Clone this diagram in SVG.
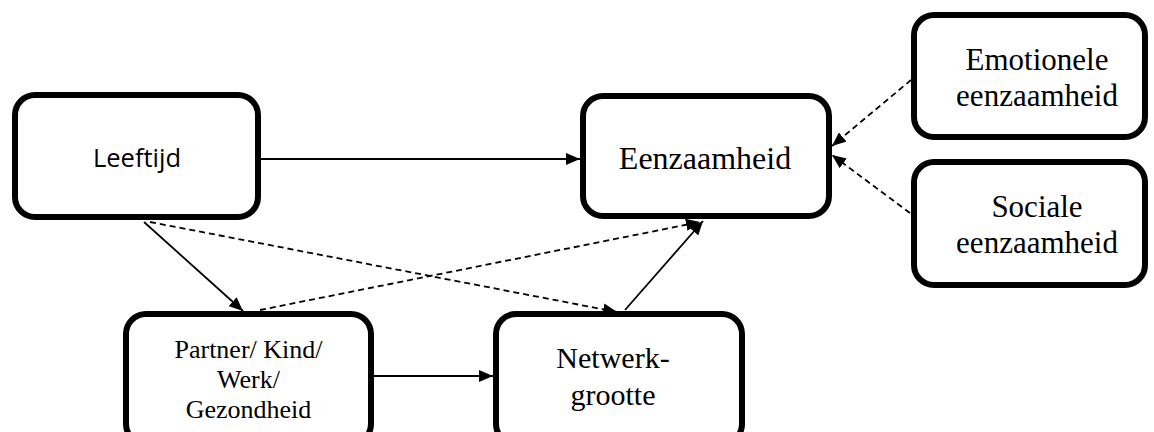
<svg xmlns="http://www.w3.org/2000/svg" width="1154" height="432" viewBox="0 0 1154 432">
<style>
.box{fill:#fff;stroke:#000;stroke-width:6}
.ser{font-family:"Liberation Serif","Times New Roman",serif;fill:#000;text-anchor:middle}
.sans{font-family:"Open Sans","Liberation Sans",sans-serif;fill:#000;text-anchor:middle}
.c{stroke:#000;stroke-width:1.8;fill:none}
.d{stroke-dasharray:6,4}
</style>
<defs>
<marker id="ah" viewBox="0 0 14 12" refX="14" refY="6" markerWidth="14" markerHeight="12" markerUnits="userSpaceOnUse" orient="auto">
<path d="M0,0 L14,6 L0,12 Z" fill="#000"/>
</marker>
</defs>
<g id="connectors">
<line class="c" x1="261" y1="159" x2="580" y2="159" marker-end="url(#ah)"/>
<line class="c" x1="144" y1="222" x2="243" y2="311" marker-end="url(#ah)"/>
<line class="c d" x1="150" y1="222" x2="617" y2="312" marker-end="url(#ah)"/>
<line class="c d" x1="260" y1="310" x2="700" y2="222" marker-end="url(#ah)"/>
<line class="c" x1="625" y1="310" x2="703" y2="221" marker-end="url(#ah)"/>
<line class="c" x1="374" y1="376" x2="493" y2="376" marker-end="url(#ah)"/>
<line class="c d" x1="911" y1="80" x2="832" y2="146" marker-end="url(#ah)"/>
<line class="c d" x1="910" y1="213" x2="832" y2="155" marker-end="url(#ah)"/>
</g>
<g id="leeftijd">
<rect class="box" x="15" y="95" width="243" height="122" rx="20"/>
<text class="sans" x="137" y="167" font-size="25.5">Leeftijd</text>
</g>
<g id="eenzaamheid">
<rect class="box" x="583" y="96" width="246" height="120" rx="20"/>
<text class="ser" x="705" y="169" font-size="32">Eenzaamheid</text>
</g>
<g id="emotionele">
<rect class="box" x="914" y="15" width="231" height="122" rx="20"/>
<text class="ser" x="1037" y="70" font-size="31">Emotionele</text>
<text class="ser" x="1037" y="106" font-size="31">eenzaamheid</text>
</g>
<g id="sociale">
<rect class="box" x="914" y="162" width="231" height="123" rx="20"/>
<text class="ser" x="1037" y="217" font-size="31">Sociale</text>
<text class="ser" x="1037" y="253" font-size="31">eenzaamheid</text>
</g>
<g id="partner">
<rect class="box" x="126" y="314" width="245" height="130" rx="20"/>
<text class="ser" x="248.5" y="358" font-size="26">Partner/ Kind/</text>
<text class="ser" x="248.5" y="388" font-size="26">Werk/</text>
<text class="ser" x="248.5" y="418" font-size="26">Gezondheid</text>
</g>
<g id="netwerk">
<rect class="box" x="496" y="314" width="246" height="130" rx="20"/>
<text class="ser" x="613" y="368" font-size="30">Netwerk-</text>
<text class="ser" x="613" y="405" font-size="30">grootte</text>
</g>
</svg>
